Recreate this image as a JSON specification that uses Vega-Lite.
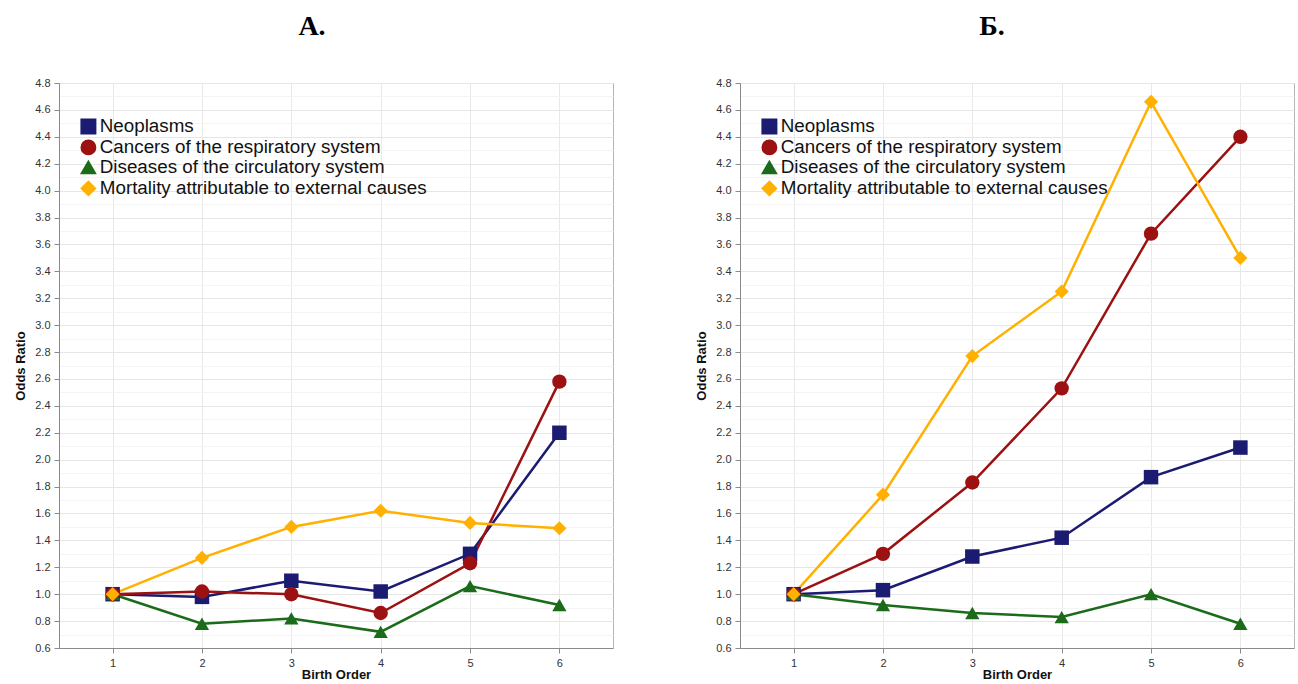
{
  "$schema": "https://vega.github.io/schema/vega-lite/v6.json",
  "background": "white",
  "padding": {"left": 14, "top": 12, "right": 0, "bottom": 0},
  "datasets": {
    "d": [
      {"panel": "A", "cause": "Neoplasms", "order": 1, "or": 1.0},
      {"panel": "A", "cause": "Neoplasms", "order": 2, "or": 0.98},
      {"panel": "A", "cause": "Neoplasms", "order": 3, "or": 1.10},
      {"panel": "A", "cause": "Neoplasms", "order": 4, "or": 1.02},
      {"panel": "A", "cause": "Neoplasms", "order": 5, "or": 1.30},
      {"panel": "A", "cause": "Neoplasms", "order": 6, "or": 2.20},
      {"panel": "A", "cause": "Cancers of the respiratory system", "order": 1, "or": 1.0},
      {"panel": "A", "cause": "Cancers of the respiratory system", "order": 2, "or": 1.02},
      {"panel": "A", "cause": "Cancers of the respiratory system", "order": 3, "or": 1.00},
      {"panel": "A", "cause": "Cancers of the respiratory system", "order": 4, "or": 0.86},
      {"panel": "A", "cause": "Cancers of the respiratory system", "order": 5, "or": 1.23},
      {"panel": "A", "cause": "Cancers of the respiratory system", "order": 6, "or": 2.58},
      {"panel": "A", "cause": "Diseases of the circulatory system", "order": 1, "or": 1.0},
      {"panel": "A", "cause": "Diseases of the circulatory system", "order": 2, "or": 0.78},
      {"panel": "A", "cause": "Diseases of the circulatory system", "order": 3, "or": 0.82},
      {"panel": "A", "cause": "Diseases of the circulatory system", "order": 4, "or": 0.72},
      {"panel": "A", "cause": "Diseases of the circulatory system", "order": 5, "or": 1.06},
      {"panel": "A", "cause": "Diseases of the circulatory system", "order": 6, "or": 0.92},
      {"panel": "A", "cause": "Mortality attributable to external causes", "order": 1, "or": 1.0},
      {"panel": "A", "cause": "Mortality attributable to external causes", "order": 2, "or": 1.27},
      {"panel": "A", "cause": "Mortality attributable to external causes", "order": 3, "or": 1.50},
      {"panel": "A", "cause": "Mortality attributable to external causes", "order": 4, "or": 1.62},
      {"panel": "A", "cause": "Mortality attributable to external causes", "order": 5, "or": 1.53},
      {"panel": "A", "cause": "Mortality attributable to external causes", "order": 6, "or": 1.49},
      {"panel": "B", "cause": "Neoplasms", "order": 1, "or": 1.0},
      {"panel": "B", "cause": "Neoplasms", "order": 2, "or": 1.03},
      {"panel": "B", "cause": "Neoplasms", "order": 3, "or": 1.28},
      {"panel": "B", "cause": "Neoplasms", "order": 4, "or": 1.42},
      {"panel": "B", "cause": "Neoplasms", "order": 5, "or": 1.87},
      {"panel": "B", "cause": "Neoplasms", "order": 6, "or": 2.09},
      {"panel": "B", "cause": "Cancers of the respiratory system", "order": 1, "or": 1.0},
      {"panel": "B", "cause": "Cancers of the respiratory system", "order": 2, "or": 1.30},
      {"panel": "B", "cause": "Cancers of the respiratory system", "order": 3, "or": 1.83},
      {"panel": "B", "cause": "Cancers of the respiratory system", "order": 4, "or": 2.53},
      {"panel": "B", "cause": "Cancers of the respiratory system", "order": 5, "or": 3.68},
      {"panel": "B", "cause": "Cancers of the respiratory system", "order": 6, "or": 4.40},
      {"panel": "B", "cause": "Diseases of the circulatory system", "order": 1, "or": 1.0},
      {"panel": "B", "cause": "Diseases of the circulatory system", "order": 2, "or": 0.92},
      {"panel": "B", "cause": "Diseases of the circulatory system", "order": 3, "or": 0.86},
      {"panel": "B", "cause": "Diseases of the circulatory system", "order": 4, "or": 0.83},
      {"panel": "B", "cause": "Diseases of the circulatory system", "order": 5, "or": 1.00},
      {"panel": "B", "cause": "Diseases of the circulatory system", "order": 6, "or": 0.78},
      {"panel": "B", "cause": "Mortality attributable to external causes", "order": 1, "or": 1.0},
      {"panel": "B", "cause": "Mortality attributable to external causes", "order": 2, "or": 1.74},
      {"panel": "B", "cause": "Mortality attributable to external causes", "order": 3, "or": 2.77},
      {"panel": "B", "cause": "Mortality attributable to external causes", "order": 4, "or": 3.25},
      {"panel": "B", "cause": "Mortality attributable to external causes", "order": 5, "or": 4.66},
      {"panel": "B", "cause": "Mortality attributable to external causes", "order": 6, "or": 3.50}
    ]
  },
  "config": {
    "font": "Liberation Sans",
    "view": {"stroke": "#b5b5b5", "strokeWidth": 1},
    "axis": {
      "domainColor": "#8a8a8a",
      "tickColor": "#8a8a8a",
      "labelColor": "#333333",
      "labelFontSize": 11,
      "titleFontSize": 13,
      "titleFontWeight": "bold",
      "titleColor": "#111111",
      "tickSize": 5,
      "labelPadding": 4
    },
    "title": {"font": "Liberation Serif", "fontSize": 28, "fontWeight": "bold", "color": "#000000", "anchor": "middle"},
    "legend": {
      "orient": "none",
      "legendX": 20,
      "legendY": 34,
      "padding": 0,
      "labelFontSize": 18.8,
      "labelColor": "#111111",
      "symbolSize": 190,
      "rowPadding": 0,
      "labelOffset": 2,
      "title": null,
      "labelLimit": 0
    },
    "concat": {"spacing": 81}
  },
  "hconcat": [
    {
      "title": {"text": "А.", "dx": -24, "offset": 36},
      "width": 554,
      "height": 565,
      "data": {"name": "d"},
      "transform": [{"filter": "datum.panel === 'A'"}],
      "encoding": {
        "x": {"field": "order", "type": "quantitative",
          "scale": {"domain": [0.4, 6.6], "nice": false, "zero": false},
          "axis": {"values": [1, 2, 3, 4, 5, 6], "title": "Birth Order", "titlePadding": 0, "gridColor": "#e8e8e8"}},
        "y": {"field": "or", "type": "quantitative",
          "scale": {"domain": [0.6, 4.8], "nice": false, "zero": false},
          "axis": {"title": "Odds Ratio", "titlePadding": 7,
            "values": [0.6,0.7,0.8,0.9,1.0,1.1,1.2,1.3,1.4,1.5,1.6,1.7,1.8,1.9,2.0,2.1,2.2,2.3,2.4,2.5,2.6,2.7,2.8,2.9,3.0,3.1,3.2,3.3,3.4,3.5,3.6,3.7,3.8,3.9,4.0,4.1,4.2,4.3,4.4,4.5,4.6,4.7,4.8],
            "labelExpr": "round(datum.value*10) % 2 == 0 ? format(datum.value, '.1f') : ''",
            "gridColor": {"condition": {"test": "round(datum.value*10) % 2 == 0", "value": "#e6e6e6"}, "value": "#f4f4f4"},
            "tickOpacity": {"condition": {"test": "round(datum.value*10) % 2 == 0", "value": 1}, "value": 0}}},
        "color": {"field": "cause", "type": "nominal",
          "scale": {"domain": ["Neoplasms", "Cancers of the respiratory system", "Diseases of the circulatory system", "Mortality attributable to external causes"],
            "range": ["#1b1b72", "#9c1111", "#1b6b1b", "#ffb000"]},
          "legend": {"title": null}}
      },
      "layer": [
        {"mark": {"type": "line", "strokeWidth": 2.5}, "encoding": {}},
        {"mark": {"type": "point", "filled": true, "opacity": 1},
          "encoding": {
            "shape": {"field": "cause", "type": "nominal",
              "scale": {"domain": ["Neoplasms", "Cancers of the respiratory system", "Diseases of the circulatory system", "Mortality attributable to external causes"],
                "range": ["square", "circle", "triangle-up", "diamond"]},
              "legend": {"title": null}},
            "size": {"field": "cause", "type": "nominal",
              "scale": {"domain": ["Neoplasms", "Cancers of the respiratory system", "Diseases of the circulatory system", "Mortality attributable to external causes"],
                "range": [210, 200, 260, 150]},
              "legend": null}}}
      ]
    },
    {
      "title": {"text": "Б.", "dx": -25, "offset": 36},
      "width": 554,
      "height": 565,
      "data": {"name": "d"},
      "transform": [{"filter": "datum.panel === 'B'"}],
      "encoding": {
        "x": {"field": "order", "type": "quantitative",
          "scale": {"domain": [0.4, 6.6], "nice": false, "zero": false},
          "axis": {"values": [1, 2, 3, 4, 5, 6], "title": "Birth Order", "titlePadding": 0, "gridColor": "#e8e8e8"}},
        "y": {"field": "or", "type": "quantitative",
          "scale": {"domain": [0.6, 4.8], "nice": false, "zero": false},
          "axis": {"title": "Odds Ratio", "titlePadding": 7,
            "values": [0.6,0.7,0.8,0.9,1.0,1.1,1.2,1.3,1.4,1.5,1.6,1.7,1.8,1.9,2.0,2.1,2.2,2.3,2.4,2.5,2.6,2.7,2.8,2.9,3.0,3.1,3.2,3.3,3.4,3.5,3.6,3.7,3.8,3.9,4.0,4.1,4.2,4.3,4.4,4.5,4.6,4.7,4.8],
            "labelExpr": "round(datum.value*10) % 2 == 0 ? format(datum.value, '.1f') : ''",
            "gridColor": {"condition": {"test": "round(datum.value*10) % 2 == 0", "value": "#e6e6e6"}, "value": "#f4f4f4"},
            "tickOpacity": {"condition": {"test": "round(datum.value*10) % 2 == 0", "value": 1}, "value": 0}}},
        "color": {"field": "cause", "type": "nominal",
          "scale": {"domain": ["Neoplasms", "Cancers of the respiratory system", "Diseases of the circulatory system", "Mortality attributable to external causes"],
            "range": ["#1b1b72", "#9c1111", "#1b6b1b", "#ffb000"]},
          "legend": {"title": null}}
      },
      "layer": [
        {"mark": {"type": "line", "strokeWidth": 2.5}, "encoding": {}},
        {"mark": {"type": "point", "filled": true, "opacity": 1},
          "encoding": {
            "shape": {"field": "cause", "type": "nominal",
              "scale": {"domain": ["Neoplasms", "Cancers of the respiratory system", "Diseases of the circulatory system", "Mortality attributable to external causes"],
                "range": ["square", "circle", "triangle-up", "diamond"]},
              "legend": {"title": null}},
            "size": {"field": "cause", "type": "nominal",
              "scale": {"domain": ["Neoplasms", "Cancers of the respiratory system", "Diseases of the circulatory system", "Mortality attributable to external causes"],
                "range": [210, 200, 260, 150]},
              "legend": null}}}
      ]
    }
  ],
  "resolve": {"scale": {"color": "independent", "shape": "independent", "size": "independent"}, "legend": {"color": "independent", "shape": "independent"}}
}
